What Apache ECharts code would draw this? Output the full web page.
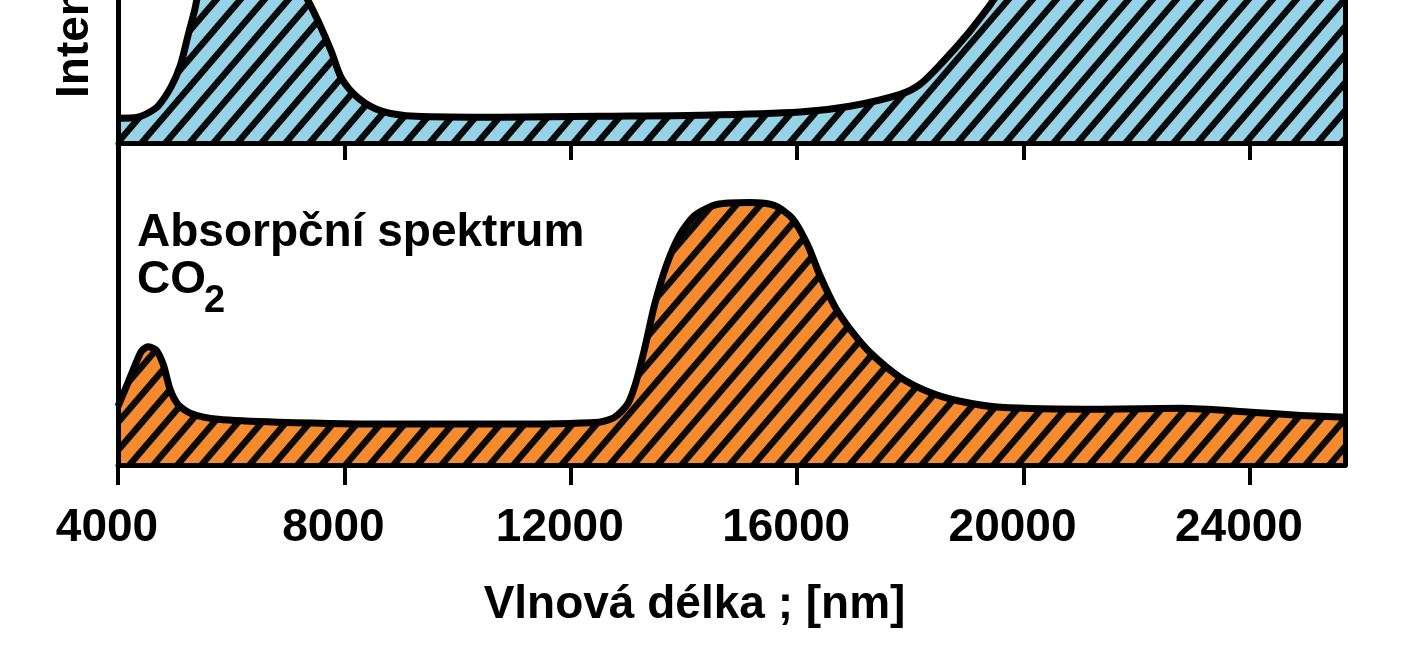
<!DOCTYPE html>
<html>
<head>
<meta charset="utf-8">
<script src="https://cdn.jsdelivr.net/npm/echarts@6/dist/echarts.min.js"></script>
<style>
  html, body { margin: 0; padding: 0; background: #fff; }
  #chart { width: 1408px; height: 647px; }
</style>
</head>
<body>
<div id="chart"></div>
<script>
// horní panel (modrý) – vlnová délka [nm] a relativní intenzita
const topWave = [4000, 4350, 4530, 4710, 4940, 5100, 5240, 5360, 5500, 5900, 6500, 7000, 7190, 7370, 7540, 7770, 7950, 8250, 8660, 9260, 10730, 12500, 14280, 16050, 16930, 17820, 18170, 18580, 19000, 19360, 19590, 20480, 22000, 25680];
const topLevel = [7.7, 8.0, 9.3, 11.5, 17.5, 24.0, 33.6, 41.7, 53, 68, 72, 60, 50, 43.8, 37.7, 28.4, 20.1, 13.9, 9.9, 8.3, 8.0, 8.3, 8.6, 9.6, 11.4, 15.1, 18.2, 25.3, 33.6, 41.7, 47, 60, 68, 72];

// spodní panel – absorpční spektrum CO2
const co2Wave = [4000, 4090, 4270, 4410, 4530, 4670, 4800, 4920, 5060, 5290, 5770, 6830, 8960, 10730, 12500, 12770, 13000, 13140, 13300, 13480, 13690, 13920, 14190, 14580, 15160, 15600, 15920, 16190, 16400, 16670, 16970, 17290, 17820, 18350, 18880, 19590, 21360, 22780, 24020, 24900, 25680];
const co2Level = [18.2, 21.9, 29.6, 35.2, 36.7, 35.8, 31.2, 23.5, 18.8, 16.0, 14.2, 13.3, 12.7, 12.7, 13.3, 14.8, 18.8, 25.0, 35.8, 49.7, 62.0, 71.3, 77.5, 80.9, 81.5, 80.6, 76.5, 68.2, 59.0, 49.1, 41.4, 34.9, 27.2, 22.5, 19.8, 17.9, 17.3, 17.6, 16.4, 15.4, 14.8];

const xMin = 4000, xMax = 25680, xStep = 4000;

const FONT = '"Liberation Sans", Arial, sans-serif';

// šrafování – šikmé černé pruhy na barevném podkladu
function hatch(bg) {
  const w = 24, h = 28;
  const c = document.createElement('canvas');
  c.width = w; c.height = h;
  const ctx = c.getContext('2d');
  ctx.fillStyle = bg;
  ctx.fillRect(0, 0, w, h);
  ctx.strokeStyle = '#0a0a0a';
  ctx.lineWidth = 6.5;
  for (let k = 0; k <= 2; k++) {
    ctx.beginPath();
    ctx.moveTo(k * w + w, -h);
    ctx.lineTo(k * w - 2 * w, 2 * h);
    ctx.stroke();
  }
  return { image: c, repeat: 'repeat' };
}

const zip = (xs, ys) => xs.map((x, i) => [x, ys[i]]);

const edge = { show: true, lineStyle: { color: '#000', width: 5 } };
const noAxis = {
  axisTick: { show: false }, axisLabel: { show: false }, splitLine: { show: false }
};

const chart = echarts.init(document.getElementById('chart'));

chart.setOption({
  animation: false,
  backgroundColor: '#fff',
  grid: [
    { left: 118, width: 1227, top: -10, height: 153, outerBoundsMode: 'none' },
    { left: 118, width: 1227, top: 143, height: 322, outerBoundsMode: 'none' }
  ],
  xAxis: [
    {
      gridIndex: 0, type: 'value', min: xMin, max: xMax, interval: xStep, z: 10,
      axisLine: edge,
      axisTick: { length: 17, lineStyle: { color: '#000', width: 4 } },
      axisLabel: { show: false },
      splitLine: { show: false }
    },
    {
      gridIndex: 1, type: 'value', min: xMin, max: xMax, interval: xStep, z: 10,
      axisLine: edge,
      axisTick: { length: 20, lineStyle: { color: '#000', width: 4 } },
      axisLabel: {
        margin: 40, color: '#000', fontFamily: FONT, fontWeight: 'bold', fontSize: 46,
        padding: [0, 22, 0, 0],
        showMinLabel: true, showMaxLabel: false,
        formatter: v => (v % xStep === 0 ? String(v) : '')
      },
      splitLine: { show: false },
      name: 'Vlnová délka ; [nm]',
      nameLocation: 'middle',
      nameGap: 117,
      nameTextStyle: {
        color: '#000', fontFamily: FONT, fontWeight: 'bold', fontSize: 46,
        padding: [0, 74, 0, 0]
      }
    }
  ],
  yAxis: [
    { gridIndex: 0, type: 'value', min: 0, max: 47.5, z: 10, axisLine: edge, ...noAxis },
    { gridIndex: 0, type: 'value', min: 0, max: 47.5, z: 10, position: 'right', axisLine: edge, ...noAxis },
    { gridIndex: 1, type: 'value', min: 0, max: 100, z: 10, axisLine: edge, ...noAxis },
    { gridIndex: 1, type: 'value', min: 0, max: 100, z: 10, position: 'right', axisLine: edge, ...noAxis }
  ],
  series: [
    {
      type: 'line', xAxisIndex: 0, yAxisIndex: 0,
      data: zip(topWave, topLevel),
      smooth: 0.3, showSymbol: false, clip: true,
      lineStyle: { color: '#000', width: 7, join: 'round' },
      areaStyle: { color: hatch('#97d3e6'), opacity: 1 }
    },
    {
      type: 'line', xAxisIndex: 1, yAxisIndex: 2,
      data: zip(co2Wave, co2Level),
      smooth: 0.25, showSymbol: false, clip: true,
      lineStyle: { color: '#000', width: 7, join: 'round' },
      areaStyle: { color: hatch('#f68a2f'), opacity: 1 }
    }
  ],
  graphic: [
    {
      type: 'text', x: 75, y: 98, rotation: Math.PI / 2,
      style: {
        text: 'Intenzita', fill: '#000', font: 'bold 46px ' + FONT,
        textAlign: 'left', textVerticalAlign: 'middle'
      }
    },
    {
      type: 'text', x: 137, y: 233,
      style: {
        text: 'Absorpční spektrum', fill: '#000', font: 'bold 46px ' + FONT,
        textAlign: 'left', textVerticalAlign: 'middle'
      }
    },
    {
      type: 'text', x: 137, y: 280,
      style: {
        text: 'CO', fill: '#000', font: 'bold 46px ' + FONT,
        textAlign: 'left', textVerticalAlign: 'middle'
      }
    },
    {
      type: 'text', x: 204, y: 302,
      style: {
        text: '2', fill: '#000', font: 'bold 38px ' + FONT,
        textAlign: 'left', textVerticalAlign: 'middle'
      }
    }
  ]
});
</script>
</body>
</html>
